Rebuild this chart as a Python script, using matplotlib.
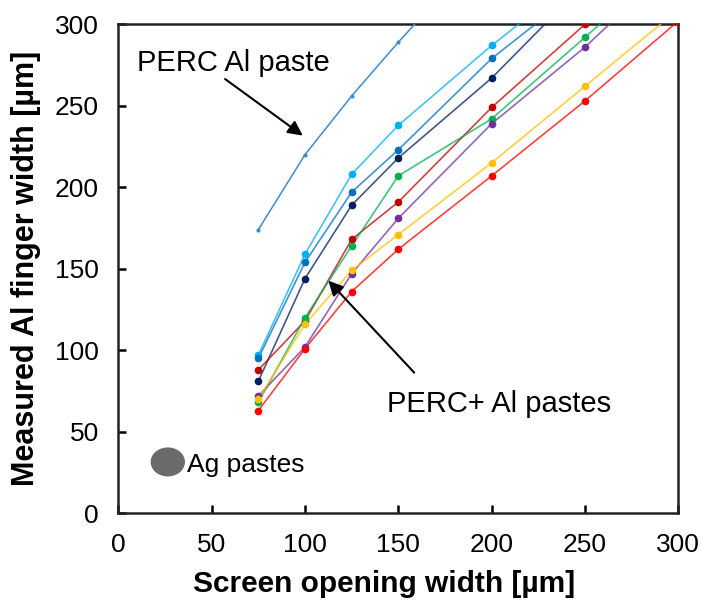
import matplotlib
matplotlib.use("Agg")
import matplotlib.pyplot as plt
from matplotlib.patches import Ellipse
from matplotlib import font_manager

# ---------------- data ----------------
x_perc = [75, 100, 125, 150, 200]
y_perc = [174, 220, 256, 289, 352]

x_plus = [75, 100, 125, 150, 200, 250, 300]
y_lightblue = [97, 159, 208, 238, 287, 332, 370]
y_medblue   = [95, 154, 197, 223, 279, 324, 365]
y_navy      = [81, 144, 189, 218, 267, 325, 370]
y_darkred   = [88, 118, 168, 191, 249, 300, 350]
y_green     = [68, 120, 164, 207, 242, 292, 343]
y_purple    = [72, 102, 147, 181, 239, 286, 340]
y_yellow    = [70, 116, 149, 171, 215, 262, 309]
y_red       = [63, 101, 136, 162, 207, 253, 302]

plus_series = [
    ("#00B0F0", y_lightblue),
    ("#0070C0", y_medblue),
    ("#002060", y_navy),
    ("#C00000", y_darkred),
    ("#00B050", y_green),
    ("#7030A0", y_purple),
    ("#FFC000", y_yellow),
    ("#FF0000", y_red),
]

xticks = [0, 50, 100, 150, 200, 250, 300]
yticks = [0, 50, 100, 150, 200, 250, 300]

# ---------------- fonts ----------------
avail = {f.name for f in font_manager.fontManager.ttflist}
tick_family = "Liberation Sans Narrow" if "Liberation Sans Narrow" in avail else "Liberation Sans"
text_family = "Liberation Sans"

fig = plt.figure(figsize=(7.01, 6.05), dpi=100)
ax = fig.add_axes([0.1688, 0.1516, 0.7989, 0.8083])

# PERC Al paste
ax.plot(x_perc, y_perc, color="#3C8DD0", lw=1.1, marker="o", ms=3,
        markeredgewidth=0, zorder=3)

for col, ys in plus_series:
    ax.plot(x_plus, ys, color=col, lw=1.2, alpha=0.75, zorder=3)
    ax.plot(x_plus, ys, color=col, lw=0, marker="o", ms=5.5,
            markeredgewidth=0, zorder=4)

ax.set_xlim(0, 300)
ax.set_ylim(0, 300)
ax.set_xticks(xticks)
ax.set_yticks(yticks)
ax.tick_params(direction="in", length=6, width=1.8, pad=14,
               labelsize=19, colors="black")
for lab in ax.get_xticklabels() + ax.get_yticklabels():
    lab.set_family(tick_family)
for sp in ax.spines.values():
    sp.set_linewidth(1.8)
    sp.set_color("#222222")

ax.set_xlabel("Screen opening width [µm]", fontsize=21.5, fontweight="bold",
              family=text_family)
ax.xaxis.set_label_coords(0.475, -0.117)
ax.set_ylabel("Measured Al finger width [µm]", fontsize=22, fontweight="bold",
              family=text_family, labelpad=10)

# Ag pastes ellipse
ax.add_patch(Ellipse((26.5, 31.5), 18.4, 17.8, facecolor="#6B6B6B",
                     edgecolor="none", zorder=5))
ax.text(37, 25.2, "Ag pastes", fontsize=19, family=text_family,
        va="baseline", ha="left")

# annotations
ax.annotate("", xy=(98.8, 231.7), xytext=(57.2, 266.4),
            arrowprops=dict(arrowstyle="-|>", color="black", lw=1.5,
                            mutation_scale=22, shrinkA=0, shrinkB=0))
ax.text(10, 271.5, "PERC Al paste", fontsize=21, family=text_family,
        va="baseline", ha="left")

ax.annotate("", xy=(112.5, 142.7), xytext=(158.5, 86.3),
            arrowprops=dict(arrowstyle="-|>", color="black", lw=1.5,
                            mutation_scale=22, shrinkA=0, shrinkB=0))
ax.text(144.1, 62.3, "PERC+ Al pastes", fontsize=21, family=text_family,
        va="baseline", ha="left")

fig.savefig("out.png", dpi=100)
